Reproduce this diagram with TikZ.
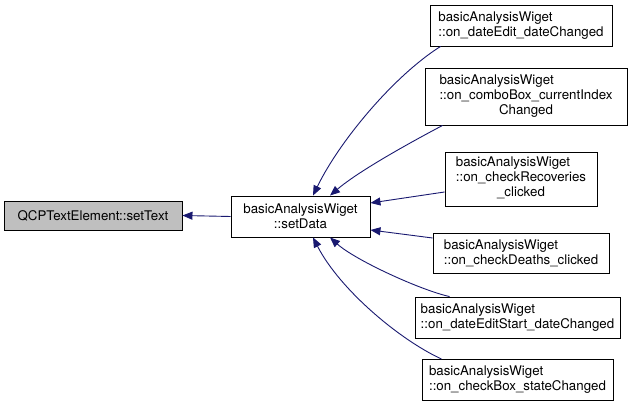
\documentclass[tikz,border=0pt]{standalone}
\usepackage{fontspec}
\setmainfont{TeX Gyre Heros}
\usetikzlibrary{arrows.meta}
\definecolor{midnight}{RGB}{25,25,112}
\definecolor{greybox}{RGB}{191,191,191}
\tikzset{
	fn/.style={draw=black, line width=0.9pt, inner sep=0pt, align=center,
		font=\fontsize{13.3}{15}\selectfont},
	caller/.style={fn, align=left},
	edge/.style={draw=midnight, line width=0.9pt,
		-{Triangle[length=10pt,width=8pt]}}
}
\begin{document}
\begin{tikzpicture}[x=1pt,y=1pt]
		
		\useasboundingbox (0,0) rectangle (632,409);
		
		\node[fn, fill=greybox, minimum width=178, minimum height=29] (qcp) at (93,193.5) {QCPTextElement::setText};
		\node[fn, minimum width=139, minimum height=41] (sd) at (300.5,192.5) {basicAnalysisWiget\\::setData};
		
		\node[caller, minimum width=182, minimum height=41] (r1) at (521,383.5) {basicAnalysisWiget\\::on\_dateEdit\_dateChanged};
		\node[caller, minimum width=202, minimum height=57] (r2) at (526,312.5)
		{\begin{tabular}{@{}l@{}}basicAnalysisWiget\\::on\_comboBox\_currentIndex\\\multicolumn{1}{@{}c@{}}{Changed}\end{tabular}};
		\node[caller, minimum width=152, minimum height=54] (r3) at (521,230)
		{\begin{tabular}{@{}l@{}}basicAnalysisWiget\\::on\_checkRecoveries\\\multicolumn{1}{@{}c@{}}{\_clicked}\end{tabular}};
		\node[caller, minimum width=176, minimum height=40] (r4) at (521,156) {basicAnalysisWiget\\::on\_checkDeaths\_clicked};
		\node[caller, minimum width=205, minimum height=41] (r5) at (517.5,91.5) {basicAnalysisWiget\\::on\_dateEditStart\_dateChanged};
		\node[caller, minimum width=191, minimum height=41] (r6) at (517.5,29) {basicAnalysisWiget\\::on\_checkBox\_stateChanged};
		
		\draw[edge] (sd.west) -- (qcp.east);
		
		\draw[edge] ([xshift=11pt]r1.south west) .. controls (395,334) and (340,269) .. ([xshift=12.5pt]sd.north);
		\draw[edge] ([xshift=18pt]r2.south west) .. controls (415,269) and (360,239) .. ([xshift=29.5pt]sd.north);
		\draw[edge] ([yshift=-13pt]r3.west) -- ([yshift=13.5pt]sd.east);
		\draw[edge] ([yshift=15pt]r4.west) -- ([yshift=-13.5pt]sd.east);
		\draw[edge] ([xshift=35pt]r5.north west) .. controls (420,119) and (355,149) .. ([xshift=29.5pt]sd.south);
		\draw[edge] ([xshift=20pt]r6.north west) .. controls (400,69) and (340,119) .. ([xshift=12.5pt]sd.south);
		
	\end{tikzpicture}
\end{document}
